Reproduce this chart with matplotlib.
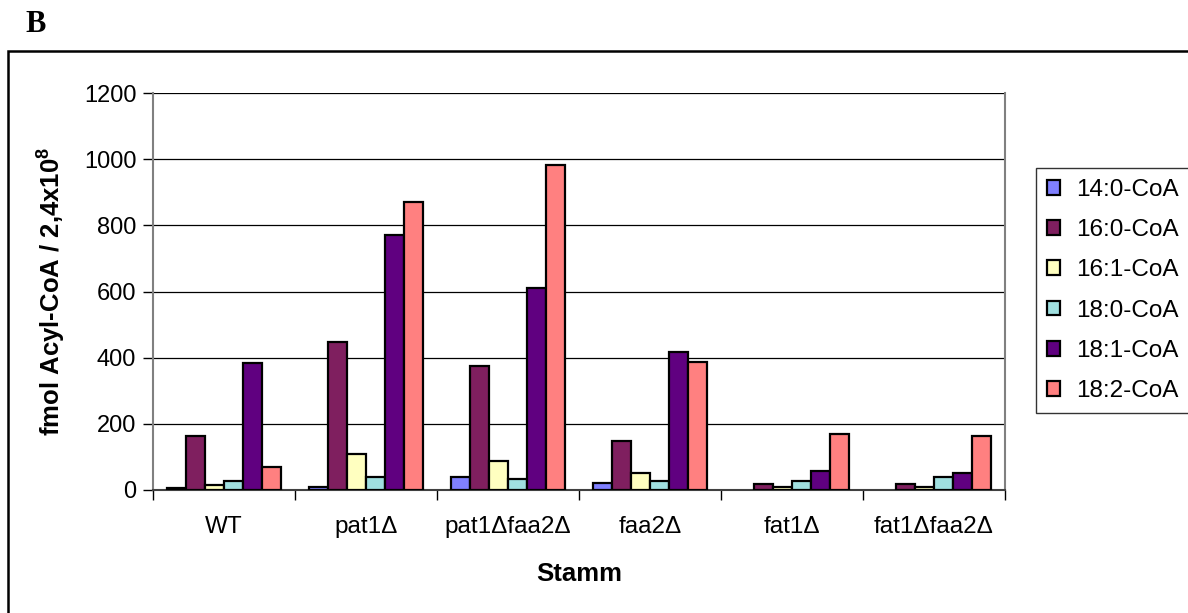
import matplotlib
matplotlib.use("Agg")
import matplotlib.pyplot as plt
from matplotlib import font_manager as fm
from matplotlib.patches import Rectangle
import numpy as np

available = {f.name for f in fm.fontManager.ttflist}


def pick(cands, default='DejaVu Sans'):
    for c in cands:
        if c in available:
            return c
    return default


SANS = pick(['Liberation Sans', 'Arimo', 'Arial'])
SERIF = pick(['Liberation Serif', 'Tinos', 'Times New Roman'], 'DejaVu Serif')

plt.rcParams['font.family'] = [SANS, 'DejaVu Sans']
plt.rcParams['mathtext.fontset'] = 'custom'
plt.rcParams['mathtext.rm'] = SANS
plt.rcParams['mathtext.bf'] = SANS + ':bold'

categories = ["WT", "pat1\u0394", "pat1\u0394faa2\u0394", "faa2\u0394", "fat1\u0394", "fat1\u0394faa2\u0394"]
series_names = ["14:0-CoA", "16:0-CoA", "16:1-CoA", "18:0-CoA", "18:1-CoA", "18:2-CoA"]
s14_0 = [6, 10, 40, 22, 0, 0]
s16_0 = [164, 447, 375, 147, 17, 17]
s16_1 = [15, 110, 88, 51, 10, 10]
s18_0 = [28, 39, 34, 28, 28, 40]
s18_1 = [383, 770, 610, 417, 58, 51]
s18_2 = [70, 870, 982, 387, 170, 164]
series = [s14_0, s16_0, s16_1, s18_0, s18_1, s18_2]
colors = ["#8080FF", "#7F1F5F", "#FFFFC0", "#A0E0E0", "#600080", "#FF8080"]
yticks = [0, 200, 400, 600, 800, 1000, 1200]

W, H = 1188, 613
fig = plt.figure(figsize=(W/100, H/100), dpi=100)
ax = fig.add_axes([153/W, 1 - 490/H, (1005-153)/W, (490-93)/H])

n = len(series)
x = np.arange(len(categories))
bw = 1.0 / (n + 1.5)
handles = []
for i, (vals, c, name) in enumerate(zip(series, colors, series_names)):
    offs = (i - (n - 1) / 2) * bw
    b = ax.bar(x + offs, vals, width=bw, color=c, edgecolor='black', linewidth=1.6,
               label=name, zorder=3)
    for patch, v in zip(b.patches, vals):
        if v == 0:
            patch.set_visible(False)
    handles.append(b)

ax.set_xlim(-0.5, len(categories) - 0.5)
ax.set_ylim(0, 1200)
ax.set_yticks(yticks)
ax.set_yticklabels([str(t) for t in yticks], fontsize=17)
ax.yaxis.grid(True, color='black', linewidth=0.9, zorder=0)
ax.set_axisbelow(True)

ax.set_xticks(x)
ax.set_xticklabels(categories, fontsize=17.5)
ax.set_xticks(np.arange(len(categories) + 1) - 0.5, minor=True)
ax.tick_params(axis='x', which='major', length=0, pad=19)
ax.tick_params(axis='x', which='minor', length=7, width=1, color='black')
ax.tick_params(axis='y', length=7, width=1, pad=5)

ax.spines['top'].set_visible(False)
ax.spines['left'].set_color('#808080')
ax.spines['left'].set_linewidth(1.5)
ax.spines['right'].set_color('#808080')
ax.spines['right'].set_linewidth(1.5)
ax.spines['bottom'].set_color('#404040')
ax.spines['bottom'].set_linewidth(1.5)

ax.set_xlabel("Stamm", fontsize=18.5, fontweight='bold', labelpad=17)
ax.set_ylabel("fmol Acyl-CoA / 2,4x10$^{\\mathbf{8}}$", fontsize=18.5, fontweight='bold', labelpad=12)

leg = fig.legend(handles=handles, labels=series_names, loc='upper left',
                 bbox_to_anchor=(1036/W, 1 - 168/H), fontsize=17.5, frameon=True,
                 fancybox=False, edgecolor='black', handlelength=0.55, handleheight=0.55,
                 handletextpad=0.65, labelspacing=0.75, borderpad=0.45, borderaxespad=0)
leg.get_frame().set_linewidth(1.0)

fig.text(25/W, 1 - 25/H, "B", fontsize=22, fontweight='bold', family=SERIF,
         va='center', ha='left')
fig.add_artist(Rectangle((8/W, -0.1), 1.2, 1.1 - 51/H, transform=fig.transFigure,
                         fill=False, edgecolor='black', linewidth=1.8))

fig.savefig("out.png", dpi=100)
